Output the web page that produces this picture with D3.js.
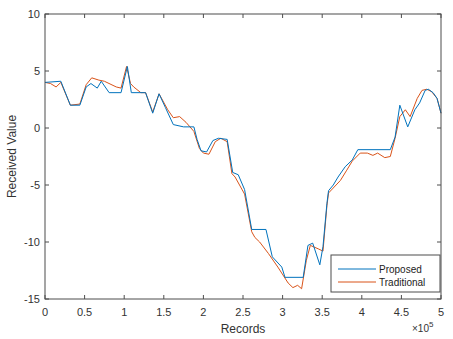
<!DOCTYPE html>
<html>
<head>
<meta charset="utf-8">
<script src="https://cdn.jsdelivr.net/npm/d3@7"></script>
<style>
  body { margin: 0; background: #fff; }
  svg { display: block; font-family: Arial, "Liberation Sans", Helvetica, sans-serif; }
</style>
</head>
<body>
<svg id="chart" width="453" height="339"></svg>
<script>
// records are in units of 1e5
const proposedX = [0, 0.2, 0.32, 0.44, 0.52, 0.58, 0.66, 0.71, 0.81, 0.96, 1.04, 1.09, 1.27, 1.36, 1.44, 1.52, 1.62, 1.75, 1.88, 1.92, 1.97, 2.04, 2.12, 2.19, 2.30, 2.37, 2.44, 2.52, 2.61, 2.79, 2.87, 2.99, 3.03, 3.26, 3.32, 3.38, 3.47, 3.51, 3.56, 3.58, 3.64, 3.70, 3.79, 3.88, 3.95, 4.36, 4.42, 4.48, 4.58, 4.67, 4.73, 4.80, 4.84, 4.90, 4.95, 5.0];
const proposedY = [4.0, 4.1, 2.0, 2.0, 3.6, 3.9, 3.5, 4.1, 3.1, 3.1, 5.4, 3.1, 3.1, 1.3, 3.0, 1.8, 0.3, 0.1, 0.1, -1.0, -2.0, -2.1, -1.1, -0.9, -1.0, -3.9, -4.1, -5.4, -8.9, -8.9, -11.3, -12.2, -13.1, -13.1, -10.3, -10.1, -12.0, -10.4, -6.6, -5.5, -5.0, -4.3, -3.4, -2.8, -1.9, -1.9, -0.8, 2.0, 0.1, 1.6, 2.2, 3.3, 3.4, 3.1, 2.6, 1.3];

const traditionalX = [0, 0.07, 0.14, 0.2, 0.32, 0.44, 0.52, 0.59, 0.68, 0.75, 0.90, 0.96, 1.03, 1.08, 1.12, 1.21, 1.27, 1.36, 1.44, 1.55, 1.62, 1.70, 1.78, 1.88, 1.95, 2.0, 2.07, 2.15, 2.22, 2.30, 2.36, 2.40, 2.52, 2.61, 2.65, 2.71, 2.82, 2.94, 3.07, 3.13, 3.19, 3.24, 3.30, 3.35, 3.45, 3.51, 3.56, 3.58, 3.73, 3.81, 3.88, 3.98, 4.07, 4.14, 4.20, 4.29, 4.36, 4.42, 4.48, 4.55, 4.61, 4.70, 4.76, 4.82, 4.88, 4.95, 5.0];
const traditionalY = [4.0, 3.9, 3.6, 4.0, 2.0, 2.1, 3.8, 4.4, 4.2, 4.1, 3.6, 3.5, 5.4, 3.9, 3.6, 3.1, 3.1, 1.4, 3.0, 1.6, 0.9, 1.0, 0.5, -0.3, -1.8, -2.2, -2.3, -1.2, -0.9, -1.2, -4.0, -4.3, -5.8, -9.1, -9.6, -10.0, -11.0, -12.2, -13.6, -14.0, -13.8, -14.1, -11.6, -10.3, -10.6, -10.8, -6.8, -5.7, -4.6, -3.7, -2.9, -2.2, -2.2, -2.4, -2.2, -2.6, -2.5, -0.9, 1.0, 1.6, 1.0, 2.6, 3.3, 3.4, 3.2, 2.6, 1.3];

const xTicks = [0, 0.5, 1, 1.5, 2, 2.5, 3, 3.5, 4, 4.5, 5];
const yTicks = [-15, -10, -5, 0, 5, 10];
const seriesNames = ["Proposed", "Traditional"];
const seriesColors = ["#0072BD", "#D95319"];

const svg = d3.select("#chart");
const plotL = 45, plotR = 441, plotT = 14, plotB = 299;
const axisColor = "#4d4d4d";

const x = d3.scaleLinear().domain([0, 5]).range([plotL, plotR]);
const y = d3.scaleLinear().domain([-15, 10]).range([plotB, plotT]);

// ticks, inward, on all four sides
const tickLen = 4;
const tickG = svg.append("g").attr("stroke", axisColor).attr("stroke-width", 1);
xTicks.forEach(t => {
  tickG.append("line").attr("x1", x(t)).attr("x2", x(t)).attr("y1", plotB).attr("y2", plotB - tickLen);
  tickG.append("line").attr("x1", x(t)).attr("x2", x(t)).attr("y1", plotT).attr("y2", plotT + tickLen);
});
yTicks.forEach(t => {
  tickG.append("line").attr("x1", plotL).attr("x2", plotL + tickLen).attr("y1", y(t)).attr("y2", y(t));
  tickG.append("line").attr("x1", plotR).attr("x2", plotR - tickLen).attr("y1", y(t)).attr("y2", y(t));
});

// series
const line = d3.line().x(d => x(d[0])).y(d => y(d[1]));
const series = [
  d3.zip(proposedX, proposedY),
  d3.zip(traditionalX, traditionalY)
];
// traditional first, proposed on top
[1, 0].forEach(i => {
  svg.append("path")
    .datum(series[i])
    .attr("fill", "none")
    .attr("stroke", seriesColors[i])
    .attr("stroke-width", 1)
    .attr("stroke-linejoin", "round")
    .attr("d", line);
});

// axes box
svg.append("rect")
  .attr("x", plotL).attr("y", plotT)
  .attr("width", plotR - plotL).attr("height", plotB - plotT)
  .attr("fill", "none").attr("stroke", axisColor).attr("stroke-width", 1);

// tick labels
svg.append("g").selectAll("text").data(xTicks).join("text")
  .attr("x", d => x(d)).attr("y", plotB + 17)
  .attr("text-anchor", "middle").attr("font-size", 11).attr("fill", "#333")
  .text(d => d);
svg.append("g").selectAll("text").data(yTicks).join("text")
  .attr("x", plotL - 5).attr("y", d => y(d) + 4)
  .attr("text-anchor", "end").attr("font-size", 11).attr("fill", "#333")
  .text(d => d);

// axis labels
svg.append("text")
  .attr("x", (plotL + plotR) / 2).attr("y", 333)
  .attr("text-anchor", "middle").attr("font-size", 12).attr("fill", "#333")
  .text("Records");
svg.append("text")
  .attr("transform", `translate(16,${(plotT + plotB) / 2}) rotate(-90)`)
  .attr("text-anchor", "middle").attr("font-size", 12).attr("fill", "#333")
  .text("Received Value");

// exponent
const expo = svg.append("text")
  .attr("x", 412).attr("y", 332)
  .attr("font-size", 10).attr("fill", "#333");
expo.append("tspan").text("\u00d710");
expo.append("tspan").attr("dy", -5).attr("font-size", 8).text("5");

// legend
const lg = svg.append("g");
lg.append("rect")
  .attr("x", 331).attr("y", 255).attr("width", 109).attr("height", 37)
  .attr("fill", "#fff").attr("stroke", axisColor).attr("stroke-width", 1);
seriesNames.forEach((name, i) => {
  const ly = 269 + i * 13;
  lg.append("line")
    .attr("x1", 338).attr("x2", 376).attr("y1", ly).attr("y2", ly)
    .attr("stroke", seriesColors[i]).attr("stroke-width", 1);
  lg.append("text")
    .attr("x", 379).attr("y", ly + 3.5)
    .attr("font-size", 10).attr("fill", "#222")
    .text(name);
});
</script>
</body>
</html>
